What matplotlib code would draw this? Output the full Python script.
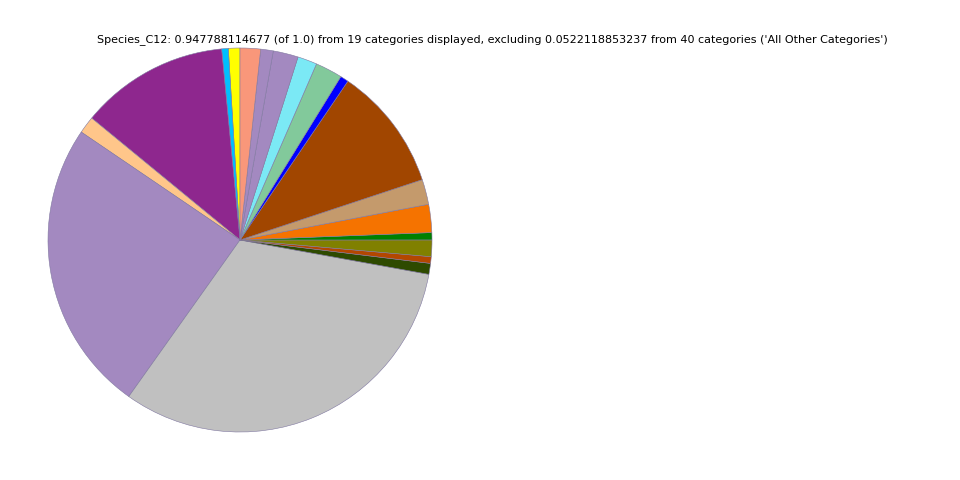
import matplotlib
matplotlib.use("Agg")
import matplotlib.pyplot as plt

# --- Data (counter-clockwise from 12 o'clock) --------------------------------
values = [0.0092, 0.0053, 0.1187, 0.0137, 0.2338, 0.3030, 0.0087, 0.0053,
          0.0132, 0.0058, 0.0224, 0.0200, 0.0987, 0.0066, 0.0216, 0.0155,
          0.0200, 0.0100, 0.0163]
colors = ["#ffff00", "#00bfff", "#8e278e", "#ffc68a", "#a389c0", "#c0c0c0",
          "#2e4a00", "#b34700", "#808000", "#008000", "#f57300", "#c49a6c",
          "#a14600", "#0000ff", "#82c99b", "#7be9f5", "#a389c0", "#a389c0",
          "#f9977a"]
title = ("Species_C12: 0.947788114677 (of 1.0) from 19 categories displayed, "
         "excluding 0.0522118853237 from 40 categories ('All Other Categories')")

# --- Plot --------------------------------------------------------------------
fig = plt.figure(figsize=(9.6, 4.8), dpi=100)
ax = fig.add_axes([0.05, 0.1, 0.4, 0.8])
ax.pie(values, colors=colors, startangle=90, counterclock=True,
       wedgeprops=dict(linewidth=0.4, edgecolor="#8078a0"))
ax.set_xlim(-1, 1)
ax.set_ylim(-1, 1)
ax.set_aspect("equal")

fig.text(0.5125, 0.918, title, ha="center", va="center", fontsize=8)

fig.savefig("out.png", dpi=100)
